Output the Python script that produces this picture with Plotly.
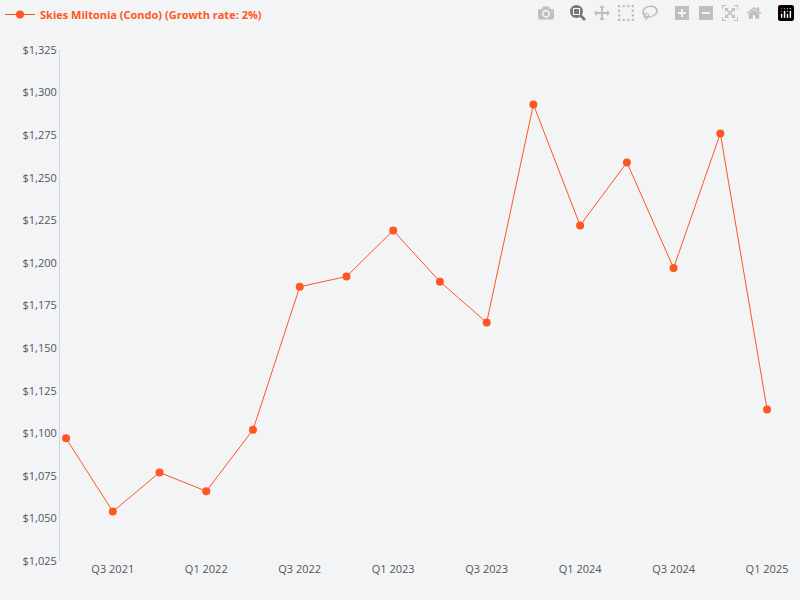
import plotly.graph_objects as go

quarters = ["Q2 2021", "Q3 2021", "Q4 2021", "Q1 2022", "Q2 2022", "Q3 2022", "Q4 2022",
            "Q1 2023", "Q2 2023", "Q3 2023", "Q4 2023", "Q1 2024", "Q2 2024", "Q3 2024",
            "Q4 2024", "Q1 2025"]
prices = [1097, 1054, 1077, 1066, 1102, 1186, 1192, 1219, 1189, 1165, 1293, 1222,
          1259, 1197, 1276, 1114]
tick_labels = quarters[1::2]
y_ticks = list(range(1025, 1326, 25))

color = "#ff5722"
fig = go.Figure()
fig.add_trace(go.Scatter(
    x=list(range(len(quarters))), y=prices, mode="lines+markers",
    name="<b>Skies Miltonia (Condo) (Growth rate: 2%)</b>",
    line=dict(color=color, width=1), marker=dict(color=color, size=8),
))
fig.update_layout(
    width=800, height=600, paper_bgcolor="#f3f4f6", plot_bgcolor="#f3f4f6",
    font=dict(family="Open Sans", size=11, color="#555"),
    margin=dict(l=60, r=15, t=50, b=39),
    showlegend=True,
    legend=dict(x=0, y=1, xanchor="left", yanchor="top", orientation="h",
                font=dict(color=color, size=11), itemwidth=30,
                bgcolor="rgba(0,0,0,0)"),
    xaxis=dict(tickvals=list(range(1, len(quarters), 2)), ticktext=tick_labels,
               range=[-0.13, 15.17], showgrid=False, zeroline=False, showline=False),
    yaxis=dict(tickvals=y_ticks, ticktext=[f"${v:,}" for v in y_ticks],
               range=[1025, 1325], showgrid=False, zeroline=False,
               showline=True, linecolor="#d0d7e0", linewidth=1),
)
fig.update_layout(legend=dict(xref="container", yref="container", x=0, y=1))
fig.write_html("out.html", post_script="document.body.style.margin='0';")
